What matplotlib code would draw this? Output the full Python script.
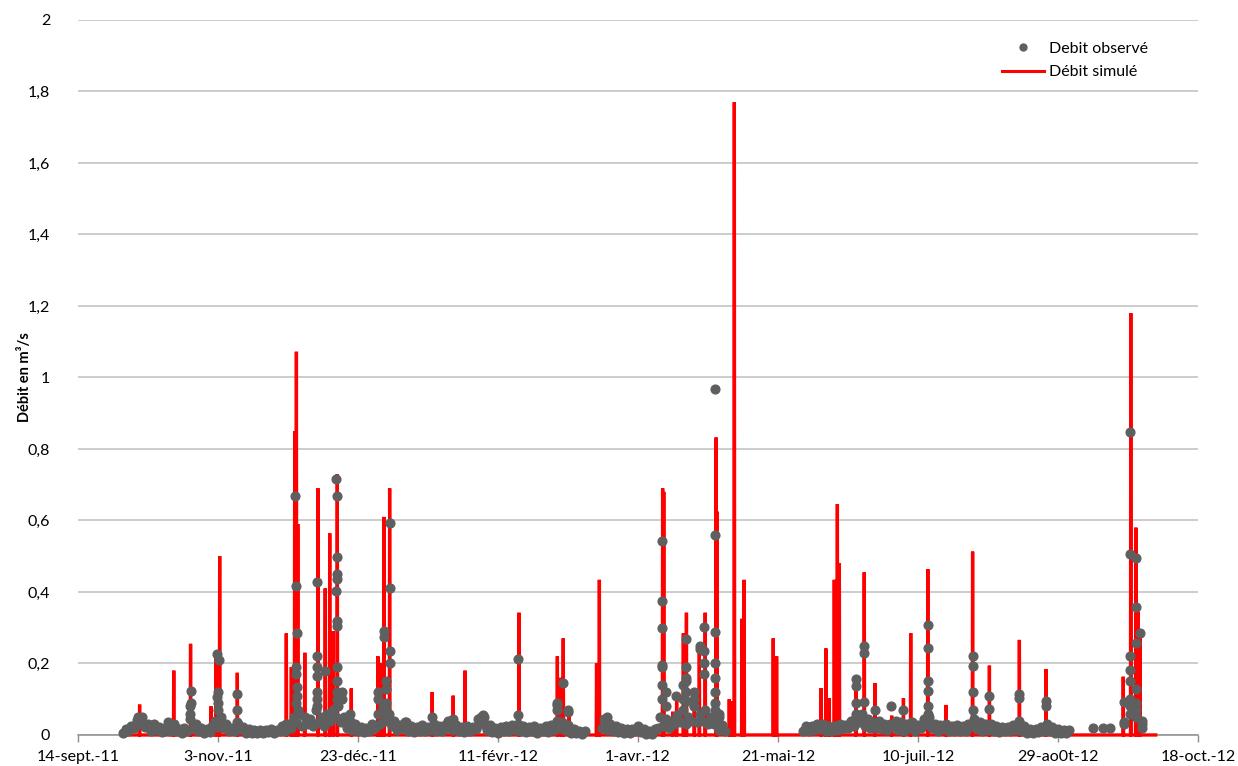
import numpy as np
import matplotlib
matplotlib.use("Agg")
import matplotlib.pyplot as plt
from matplotlib.lines import Line2D

# Time axis: days elapsed since 14 September 2011
tick_days = [0, 50, 100, 150, 200, 250, 300, 350, 400]
tick_labels = ["14-sept.-11", "3-nov.-11", "23-déc.-11", "11-févr.-12", "1-avr.-12",
               "21-mai-12", "10-juil.-12", "29-ao0t-12", "18-oct.-12"]
y_ticks = [0, 0.2, 0.4, 0.6, 0.8, 1.0, 1.2, 1.4, 1.6, 1.8, 2.0]
y_tick_labels = ["0", "0,2", "0,4", "0,6", "0,8", "1", "1,2", "1,4", "1,6", "1,8", "2"]

# Simulated discharge: flood peaks (day, m3/s)
sim_days = [22.0, 34.2, 40.2, 47.5, 49.3, 50.6, 56.9, 74.4, 76.2, 77.4, 78.0, 78.5,
            81.0, 85.7, 88.3, 89.9, 91.1, 92.6, 97.6, 107.1, 108.2, 109.3, 111.3,
            126.5, 134.0, 138.2, 157.5, 171.2, 172.5, 173.3, 175.4, 185.2, 186.2,
            208.8, 209.2, 212.4, 213.8, 216.2, 217.3, 220.1, 221.9, 224.0, 227.9, 228.2,
            232.6, 233.4, 234.4, 237.1, 237.9, 248.3, 249.5,
            265.4, 267.1, 268.3, 270.1, 271.2, 271.9, 277.8, 280.8, 284.6, 290.6,
            294.8, 297.4, 303.5, 310.0, 319.5, 325.5, 336.2, 345.7,
            373.3, 376.0, 377.8, 378.6, 379.3]
sim_vals = [0.085, 0.18, 0.255, 0.08, 0.22, 0.50, 0.174, 0.284, 0.19, 0.85, 1.072, 0.59,
            0.23, 0.69, 0.41, 0.564, 0.29, 0.73, 0.13, 0.22, 0.20, 0.61, 0.69,
            0.12, 0.11, 0.18, 0.342, 0.22, 0.16, 0.27, 0.08, 0.20, 0.434,
            0.69, 0.68, 0.065, 0.11, 0.284, 0.342, 0.11, 0.25, 0.342, 0.832, 0.625,
            0.10, 0.095, 1.77, 0.325, 0.434, 0.27, 0.22,
            0.131, 0.242, 0.103, 0.434, 0.646, 0.48, 0.154, 0.455, 0.145, 0.054,
            0.103, 0.285, 0.464, 0.084, 0.513, 0.194, 0.266, 0.184,
            0.163, 1.18, 0.58, 0.345, 0.29]
sim_start, sim_end = 15.5, 384.9

# Observed discharge during events (day, m3/s)
obs_event_days = [21.5, 22.0, 22.5, 34.2,
                  40.0, 40.1, 40.2, 40.3,
                  49.6, 49.8, 49.9, 50.0, 50.1, 50.2,
                  56.8, 56.9, 56.9, 74.4,
                  77.6, 77.8, 77.9, 78.0, 78.0, 78.1, 78.2, 78.3, 78.4,
                  85.5, 85.5, 85.5, 85.5, 85.5, 85.5, 85.5, 88.3,
                  92.3, 92.5, 92.4, 92.4, 92.4, 92.3, 92.4, 92.4, 92.5, 92.5, 92.6, 92.6, 92.6,
                  94.3, 94.3, 97.0,
                  107.0, 107.0, 109.3, 109.3, 110.0, 110.0, 110.0, 110.0, 110.0,
                  111.3, 111.3, 111.3, 111.3, 116.8, 126.5, 132.0, 134.0, 144.0,
                  144.6, 144.6, 157.3, 157.3,
                  171.0, 171.0, 171.2, 173.3, 175.0, 175.0, 189.0, 189.0,
                  208.7, 208.7, 208.7, 208.7, 208.7, 208.7, 208.7, 210.0, 210.0, 213.6,
                  216.2, 216.2, 217.1, 217.1, 217.1, 217.1, 217.1, 217.1,
                  220.0, 220.0, 220.0, 222.1, 222.1,
                  223.7, 223.7, 223.7, 223.7,
                  227.5, 227.5, 227.5, 227.5, 227.5, 227.5, 227.5, 227.5, 229.0, 229.0,
                  278.0, 278.0, 278.0, 278.0, 280.7, 280.7, 280.7, 284.6, 290.3, 294.6,
                  303.5, 303.5, 303.5, 303.5, 303.5, 303.5,
                  319.5, 319.5, 319.5, 319.5, 325.5, 325.5, 336.2, 336.2, 345.7, 345.7,
                  362.6, 366.0, 368.6,
                  373.4, 373.4, 373.4,
                  375.7, 375.7, 375.7, 375.7, 375.7, 375.7, 375.7, 375.7,
                  377.7, 377.7, 377.7, 377.7, 377.7, 377.7, 377.7,
                  379.2, 380.0, 380.0, 380.0]
obs_event_vals = [0.05, 0.04, 0.035, 0.03,
                  0.06, 0.08, 0.122, 0.09,
                  0.105, 0.226, 0.09, 0.12, 0.07, 0.21,
                  0.035, 0.115, 0.07, 0.03,
                  0.668, 0.09, 0.17, 0.417, 0.19, 0.11, 0.135, 0.284, 0.07,
                  0.427, 0.22, 0.19, 0.165, 0.12, 0.10, 0.08, 0.18,
                  0.715, 0.668, 0.499, 0.45, 0.435, 0.404, 0.32, 0.305, 0.19, 0.15, 0.12, 0.10, 0.08,
                  0.12, 0.10, 0.06,
                  0.12, 0.10, 0.29, 0.275, 0.15, 0.13, 0.09, 0.07, 0.05,
                  0.592, 0.41, 0.235, 0.20, 0.035, 0.05, 0.04, 0.045, 0.05,
                  0.056, 0.045, 0.212, 0.055,
                  0.09, 0.085, 0.07, 0.146, 0.065, 0.07, 0.05, 0.04,
                  0.543, 0.376, 0.30, 0.195, 0.19, 0.14, 0.10, 0.12, 0.08, 0.11,
                  0.14, 0.10, 0.268, 0.19, 0.16, 0.15, 0.12, 0.095,
                  0.12, 0.10, 0.08, 0.25, 0.24,
                  0.303, 0.235, 0.20, 0.17,
                  0.967, 0.56, 0.289, 0.20, 0.16, 0.12, 0.09, 0.07, 0.05, 0.06,
                  0.157, 0.136, 0.09, 0.06, 0.25, 0.228, 0.093, 0.07, 0.082, 0.07,
                  0.308, 0.243, 0.152, 0.124, 0.08, 0.06,
                  0.22, 0.194, 0.12, 0.07, 0.11, 0.072, 0.114, 0.103, 0.096, 0.08,
                  0.02, 0.02, 0.02,
                  0.093, 0.037, 0.03,
                  0.847, 0.507, 0.22, 0.182, 0.15, 0.10, 0.08, 0.06,
                  0.496, 0.357, 0.257, 0.128, 0.09, 0.07, 0.05,
                  0.285, 0.04, 0.03, 0.02]

# Observed daily low flow, autumn-spring period (days 16 to 231, no data 182-186)
base_a_first = 16
base_a_vals = [0.006, 0.016, 0.01, 0.026, 0.02, 0.042, 0.03, 0.05, 0.022, 0.03,
               0.012, 0.032, 0.014, 0.022, 0.008, 0.02, 0.035, 0.012, 0.028, 0.01,
               0.018, 0.006, 0.02, 0.012, 0.045, 0.02, 0.03, 0.01, 0.02, 0.006,
               0.016, 0.008, 0.026, 0.04, 0.022, 0.05, 0.02, 0.03, 0.01, 0.02,
               0.012, 0.03, 0.016, 0.022, 0.006, 0.016, 0.005, 0.014, 0.006, 0.015,
               0.005, 0.014, 0.008, 0.018, 0.006, 0.015, 0.01, 0.024, 0.012, 0.03,
               0.02, 0.05, 0.035, 0.06, 0.025, 0.05, 0.03, 0.045, 0.025, 0.07,
               0.035, 0.05, 0.025, 0.06, 0.04, 0.07, 0.05, 0.08, 0.035, 0.05,
               0.02, 0.04, 0.015, 0.03, 0.01, 0.022, 0.008, 0.02, 0.012, 0.03,
               0.02, 0.06, 0.03, 0.08, 0.04, 0.06, 0.025, 0.04, 0.015, 0.028,
               0.02, 0.035, 0.012, 0.025, 0.008, 0.022, 0.012, 0.028, 0.01, 0.022,
               0.015, 0.032, 0.012, 0.024, 0.01, 0.028, 0.02, 0.04, 0.015, 0.028,
               0.01, 0.022, 0.008, 0.025, 0.01, 0.022, 0.018, 0.045, 0.03, 0.05,
               0.015, 0.028, 0.008, 0.02, 0.006, 0.022, 0.01, 0.025, 0.012, 0.028,
               0.015, 0.032, 0.012, 0.025, 0.008, 0.022, 0.01, 0.024, 0.006, 0.02,
               0.01, 0.025, 0.008, 0.028, 0.015, 0.04, 0.02, 0.035, 0.015, 0.028,
               0.006, 0.018, 0.005, 0.012, 0.003, 0.01,
               None, None, None, None, None,
               0.02, 0.045, 0.015, 0.03, 0.01, 0.024, 0.008, 0.02, 0.006, 0.016,
               0.006, 0.018, 0.01, 0.024, 0.008, 0.018, 0.004, 0.012, 0.004, 0.016,
               0.02, 0.05, 0.025, 0.045, 0.02, 0.04, 0.03, 0.055, 0.035, 0.07,
               0.03, 0.05, 0.04, 0.08, 0.035, 0.06, 0.04, 0.07, 0.03, 0.05,
               0.03, 0.045, 0.015, 0.028, 0.01]

# Observed daily low flow, summer period (days 259 to 354)
base_b_first = 259
base_b_vals = [0.012, 0.026, 0.01, 0.024, 0.014, 0.03, 0.018, 0.032, 0.012, 0.026,
               0.01, 0.024, 0.015, 0.032, 0.018, 0.028, 0.02, 0.04, 0.025, 0.05,
               0.035, 0.06, 0.025, 0.045, 0.02, 0.035, 0.02, 0.04, 0.018, 0.032,
               0.015, 0.03, 0.025, 0.04, 0.015, 0.035, 0.012, 0.03, 0.02, 0.035,
               0.012, 0.028, 0.02, 0.045, 0.03, 0.05, 0.02, 0.032, 0.012, 0.028,
               0.018, 0.032, 0.01, 0.025, 0.012, 0.028, 0.01, 0.024, 0.012, 0.03,
               0.025, 0.045, 0.018, 0.035, 0.012, 0.03, 0.015, 0.032, 0.01, 0.024,
               0.008, 0.022, 0.01, 0.022, 0.01, 0.028, 0.015, 0.038, 0.012, 0.024,
               0.006, 0.018, 0.006, 0.016, 0.008, 0.022, 0.012, 0.03, 0.01, 0.022,
               0.006, 0.016, 0.005, 0.015, 0.006, 0.014]

RED = "#FF0000"
GREY = "#5F5F5F"
GRID = "#BFBFBF"
AXIS = "#8C8C8C"
FONT = ["Lato", "DejaVu Sans"]

plt.rcParams["font.family"] = FONT

# Build the simulated hydrograph as narrow peaks on a zero base flow
half_width = 0.12
sx, sy = [sim_start], [0.0]
for d, v in sorted(zip(sim_days, sim_vals)):
    sx += [d - half_width, d, d + half_width]
    sy += [0.0, v, 0.0]
sx.append(sim_end)
sy.append(0.0)

# Collect all observed points
ox, oy = list(obs_event_days), list(obs_event_vals)
for first, vals in ((base_a_first, base_a_vals), (base_b_first, base_b_vals)):
    for i, v in enumerate(vals):
        if v is not None:
            ox.append(first + i)
            oy.append(v)

fig = plt.figure(figsize=(12.38, 7.66), dpi=100)
ax = fig.add_axes([0.0630, 0.0405, 0.9047, 0.9334])

ax.plot(sx, sy, color=RED, lw=2.4, solid_joinstyle="miter", zorder=3, clip_on=False)
ax.plot(ox, oy, linestyle="none", marker="o", ms=6.3, color=GREY, mec=GREY,
        zorder=4, clip_on=False)

ax.set_xlim(tick_days[0], tick_days[-1])
ax.set_ylim(y_ticks[0], y_ticks[-1])
ax.set_yticks(y_ticks)
ax.set_yticklabels(y_tick_labels)
ax.set_xticks(tick_days)
ax.set_xticklabels(tick_labels)

ax.grid(axis="y", color=GRID, lw=1.1, zorder=0)
ax.set_axisbelow(True)
for side in ("left", "right", "top"):
    ax.spines[side].set_visible(False)
ax.spines["bottom"].set_color(AXIS)
ax.spines["bottom"].set_linewidth(1.1)
ax.tick_params(axis="x", direction="out", length=5, width=1.0, color=AXIS,
               labelsize=11.5, pad=6, labelcolor="black")
ax.tick_params(axis="y", length=0, labelsize=11.5, pad=20, labelcolor="black")

ax.set_ylabel("Débit en m³/s", fontsize=10.5, fontweight="bold", labelpad=-3)

handles = [
    Line2D([], [], linestyle="none", marker="o", ms=5, color=GREY, label="Debit observé"),
    Line2D([], [], color=RED, lw=2.2, label="Débit simulé"),
]
ax.legend(handles=handles, loc="upper right", bbox_to_anchor=(0.968, 0.99),
          frameon=False, fontsize=11.5, handlelength=2.6, handletextpad=0.3,
          labelspacing=0.6)

fig.savefig("out.png", dpi=100)
